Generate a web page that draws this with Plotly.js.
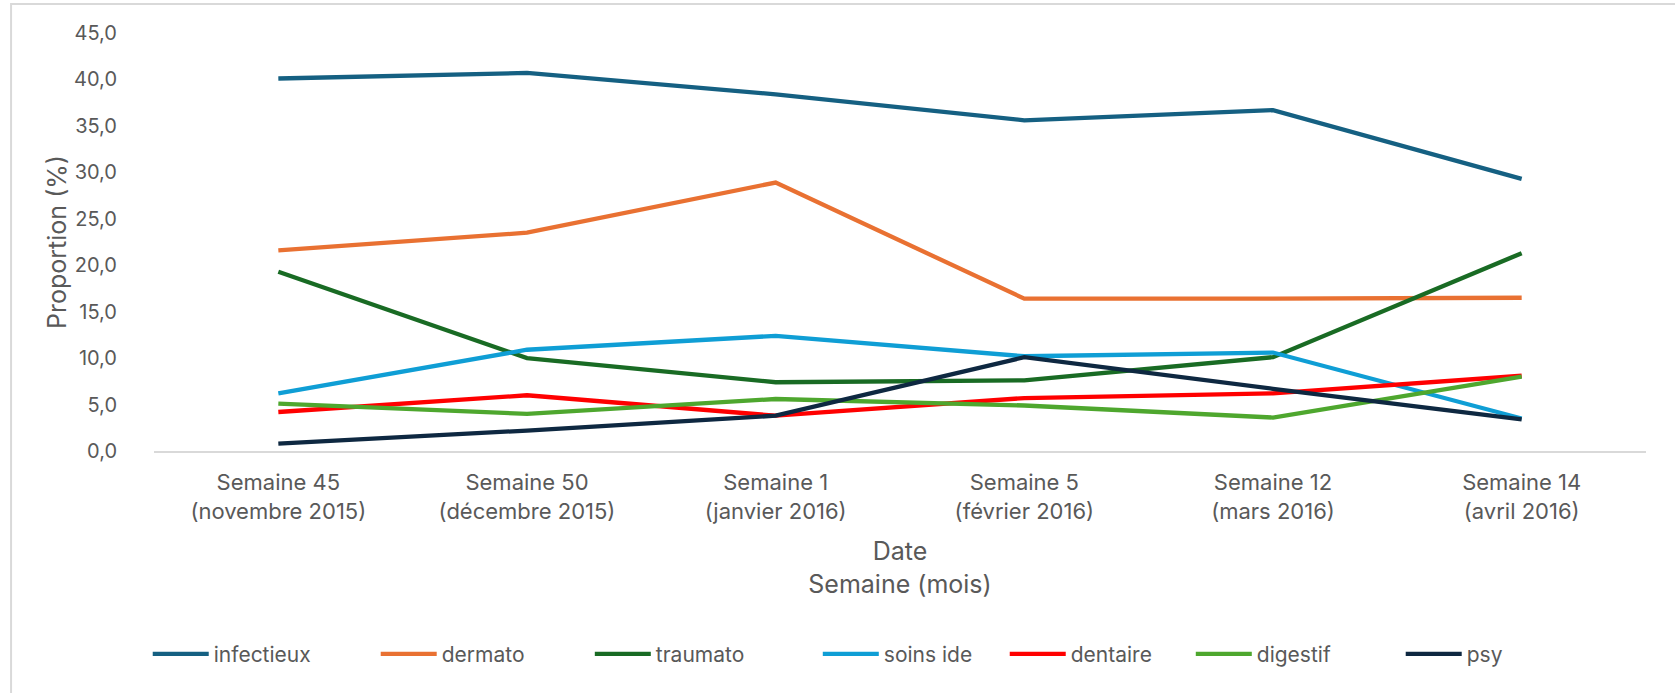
<!DOCTYPE html>
<html>
<head>
<meta charset="utf-8">
<script src="https://cdn.plot.ly/plotly-3.0.1.min.js"></script>
<style>html,body{margin:0;padding:0;background:#fff;}#chart{width:1675px;height:693px;}</style>
</head>
<body>
<div id="chart"></div>
<script>
// Categories (x axis)
const categories = [
  "Semaine 45<br>(novembre 2015)",
  "Semaine 50<br>(décembre 2015)",
  "Semaine 1<br>(janvier 2016)",
  "Semaine 5<br>(février 2016)",
  "Semaine 12<br>(mars 2016)",
  "Semaine 14<br>(avril 2016)"
];

// Series values (%)
const infectieux = [40.1, 40.7, 38.4, 35.6, 36.7, 29.3];
const dermato    = [21.6, 23.5, 28.9, 16.4, 16.4, 16.5];
const traumato   = [19.3, 10.0, 7.4, 7.6, 10.1, 21.3];
const soinsIde   = [6.2, 10.9, 12.4, 10.2, 10.6, 3.5];
const dentaire   = [4.2, 6.0, 3.8, 5.7, 6.2, 8.1];
const digestif   = [5.1, 4.0, 5.6, 4.9, 3.6, 8.0];
const psy        = [0.8, 2.2, 3.8, 10.1, 6.7, 3.4];

const seriesNames = ["infectieux", "dermato", "traumato", "soins ide", "dentaire", "digestif", "psy"];
const seriesValues = [infectieux, dermato, traumato, soinsIde, dentaire, digestif, psy];
const seriesColors = ["#156082", "#E97132", "#196B24", "#0F9ED5", "#FF0000", "#4EA72E", "#0E2841"];

const yTicks = [0, 5, 10, 15, 20, 25, 30, 35, 40, 45];

const FONT = "Inter, 'Open Sans', sans-serif";
const GREY = "#595959";

// legend entry positions (paper x) – one legend box per series
const legendX = [-0.0042, 0.1486, 0.2921, 0.4449, 0.5702, 0.6949, 0.8356];

const traces = seriesNames.map((name, i) => ({
  type: "scatter",
  mode: "lines",
  name: name,
  x: categories,
  y: seriesValues[i],
  legend: i === 0 ? "legend" : "legend" + (i + 1),
  line: {color: seriesColors[i], width: 4.3, shape: "linear"},
  hoverinfo: "x+y+name"
}));

const layout = {
  width: 1675,
  height: 693,
  margin: {l: 154, r: 29, t: 33, b: 242},
  paper_bgcolor: "#ffffff",
  plot_bgcolor: "#ffffff",
  separators: ", ",
  font: {family: FONT, color: GREY, size: 20},
  showlegend: true,
  xaxis: {
    type: "category",
    range: [-0.5, 5.5],
    showline: true,
    linecolor: "#d9d9d9",
    linewidth: 1.5,
    showgrid: false,
    zeroline: false,
    ticks: "",
    tickfont: {family: FONT, size: 22, color: GREY},
    ticklabelstandoff: 11,
    title: {
      text: "Date<br>Semaine (mois)",
      font: {family: FONT, size: 25, color: GREY},
      standoff: 20
    },
    automargin: false,
    fixedrange: true
  },
  yaxis: {
    range: [0, 45],
    tickvals: yTicks,
    tickformat: ".1f",
    showline: false,
    showgrid: false,
    zeroline: false,
    ticks: "",
    tickfont: {family: FONT, size: 20, color: GREY},
    ticklabelstandoff: 36,
    title: {
      text: "Proportion (%)",
      font: {family: FONT, size: 25, color: GREY},
      standoff: 0
    },
    automargin: false,
    fixedrange: true
  },
  shapes: [{
    type: "rect",
    xref: "paper", yref: "paper",
    x0: -0.0958, x1: 1.05,
    y0: -0.75, y1: 1.0694,
    line: {color: "#d9d9d9", width: 2},
    fillcolor: "rgba(0,0,0,0)",
    layer: "below"
  }]
};

legendX.forEach((lx, i) => {
  const key = i === 0 ? "legend" : "legend" + (i + 1);
  layout[key] = {
    orientation: "h",
    x: lx,
    xanchor: "left",
    y: -0.486,
    yanchor: "middle",
    font: {family: FONT, size: 21, color: GREY},
    itemwidth: 56,
    bgcolor: "rgba(0,0,0,0)"
  };
});

Plotly.newPlot("chart", traces, layout, {displayModeBar: false, staticPlot: true});
</script>
</body>
</html>
